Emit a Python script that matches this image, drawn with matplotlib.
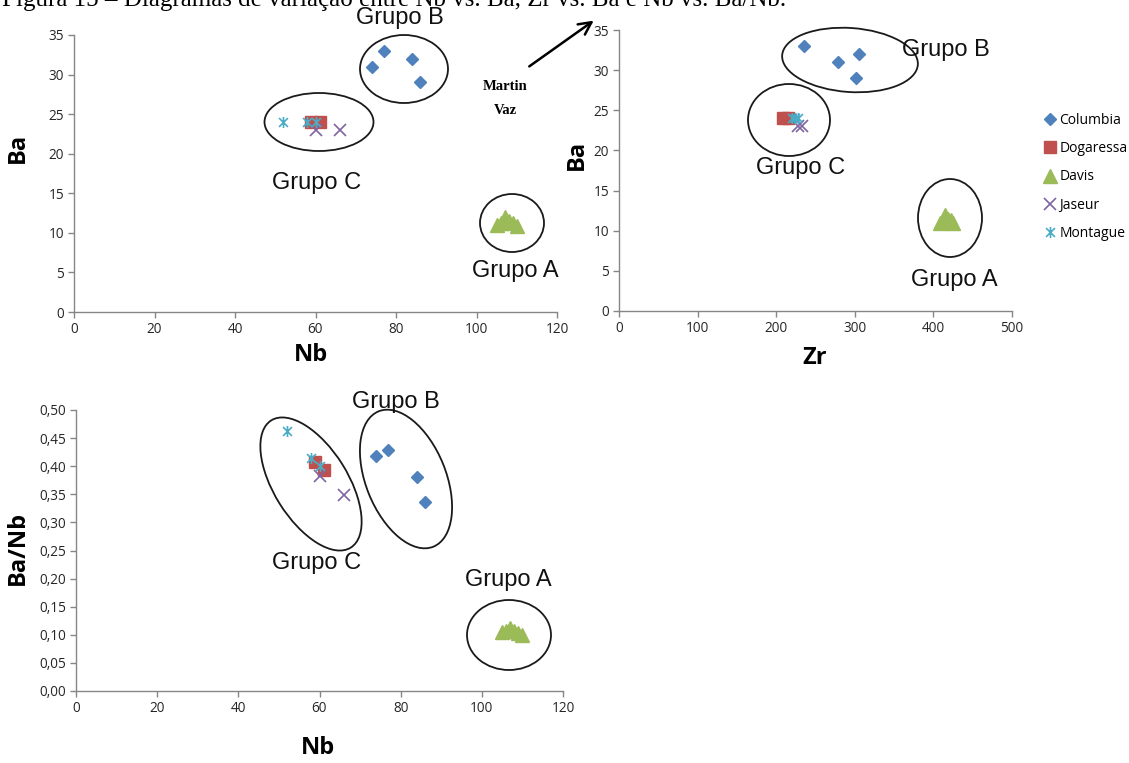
import matplotlib
matplotlib.use('Agg')
import matplotlib.pyplot as plt
from matplotlib.patches import Ellipse, FancyArrowPatch
from matplotlib.transforms import Affine2D
from matplotlib.path import Path
from matplotlib.ticker import FuncFormatter

# ---------------- data ----------------
series = ["Columbia", "Dogaressa", "Davis", "Jaseur", "Montague"]

columbia_nb = [77, 74, 84, 86]
columbia_zr = [235, 278, 305, 301]
columbia_ba = [33, 31, 32, 29]
columbia_banb = [0.429, 0.419, 0.381, 0.337]

dogaressa_nb = [59, 61]
dogaressa_zr = [209, 215]
dogaressa_ba = [24, 24]
dogaressa_banb = [0.407, 0.393]

davis_nb = [105, 106, 107, 108, 109, 110]
davis_zr = [408, 412, 415, 418, 422, 425]
davis_ba = [11.0, 11.3, 12.0, 11.5, 11.3, 10.9]
davis_banb = [0.105, 0.107, 0.112, 0.106, 0.104, 0.099]

jaseur_nb = [60, 66]
jaseur_zr = [228, 233]
jaseur_ba = [23, 23]
jaseur_banb = [0.383, 0.348]

montague_nb = [52, 58, 60]
montague_zr = [220, 224, 228]
montague_ba = [24, 24, 24]
montague_banb = [0.462, 0.414, 0.400]

nb_ticks = [0, 20, 40, 60, 80, 100, 120]
zr_ticks = [0, 100, 200, 300, 400, 500]
ba_ticks = [0, 5, 10, 15, 20, 25, 30, 35]
banb_ticks = [0.00, 0.05, 0.10, 0.15, 0.20, 0.25, 0.30, 0.35, 0.40, 0.45, 0.50]

title_text = "Figura 15 – Diagramas de variação entre Nb vs. Ba, Zr vs. Ba e Nb vs. Ba/Nb."

# ---------------- figure ----------------
W, H = 1129, 763
fig = plt.figure(figsize=(W / 100, H / 100), dpi=100)
fig.patch.set_facecolor('white')
px = Affine2D().scale(1, -1).translate(0, H)  # image pixel coords -> display

star = Path([(-1, -1), (1, 1), (-1, 1), (1, -1), (0, -1.25), (0, 1.25)],
            [Path.MOVETO, Path.LINETO] * 3)

mstyle = {
    "Columbia": dict(marker='D', ms=6.5, mec="#4F81BD", mfc="#4F81BD"),
    "Dogaressa": dict(marker='s', ms=8, mec="#C0504D", mfc="#C0504D"),
    "Davis": dict(marker='^', ms=9.5, mec="#9BBB59", mfc="#9BBB59"),
    "Jaseur": dict(marker='x', ms=8, mew=1.2, mec="#8064A2"),
    "Montague": dict(marker=star, ms=8, mew=1.2, mec="#4BACC6", mfc='none'),
}

tick_font = 'Open Sans'
label_font = 'Open Sans'
AX_COL = '#868686'


def style(ax, xt, yt, fmt=None):
    for s in ['top', 'right']:
        ax.spines[s].set_visible(False)
    for s in ['left', 'bottom']:
        ax.spines[s].set_color(AX_COL)
        ax.spines[s].set_linewidth(1.0)
    ax.set_xticks(xt)
    ax.set_yticks(yt)
    ax.set_xlim(xt[0], xt[-1])
    ax.set_ylim(yt[0], yt[-1])
    if fmt:
        ax.yaxis.set_major_formatter(FuncFormatter(fmt))
    ax.tick_params(direction='out', length=4, width=1, color=AX_COL,
                   labelsize=9.8, labelcolor='#262626', pad=3)
    for lab in ax.get_xticklabels() + ax.get_yticklabels():
        lab.set_family(tick_font)
    ax.set_facecolor('none')


def draw(ax, xs, ys):
    handles = []
    for name, x, y in zip(series, xs, ys):
        h, = ax.plot(x, y, linestyle='none', label=name, clip_on=False, **mstyle[name])
        handles.append(h)
    return handles


ax1 = fig.add_axes([74 / W, 1 - 312 / H, 483 / W, 277 / H])
handles = draw(ax1, [columbia_nb, dogaressa_nb, davis_nb, jaseur_nb, montague_nb],
               [columbia_ba, dogaressa_ba, davis_ba, jaseur_ba, montague_ba])
style(ax1, nb_ticks, ba_ticks)

ax2 = fig.add_axes([619 / W, 1 - 311 / H, 393 / W, 281 / H])
draw(ax2, [columbia_zr, dogaressa_zr, davis_zr, jaseur_zr, montague_zr],
     [columbia_ba, dogaressa_ba, davis_ba, jaseur_ba, montague_ba])
style(ax2, zr_ticks, ba_ticks)

ax3 = fig.add_axes([76 / W, 1 - 691 / H, 487 / W, 281 / H])
draw(ax3, [columbia_nb, dogaressa_nb, davis_nb, jaseur_nb, montague_nb],
     [columbia_banb, dogaressa_banb, davis_banb, jaseur_banb, montague_banb])
style(ax3, nb_ticks, banb_ticks, fmt=lambda v, p: f"{v:.2f}".replace('.', ','))

# ---------------- annotations (ellipses, group labels) ----------------
ellipses = [
    ((404, 69), 88, 68, 0),
    ((319, 122), 109, 58, 0),
    ((512, 223), 64, 58, 0),
    ((850, 60), 136, 64, 4),
    ((789, 120), 82, 72, 0),
    ((950, 218), 64, 78, 0),
    ((311, 484), 150, 74, 58),
    ((406, 479), 146, 80, 68),
    ((509, 635), 84, 70, 0),
]
for c, w, h, a in ellipses:
    e = Ellipse(c, w, h, angle=a, fill=False, edgecolor='#1a1a1a', lw=1.3, transform=px)
    fig.add_artist(e)

group_labels = [
    ("Grupo B", 400, 18), ("Grupo C", 317, 183), ("Grupo A", 515, 271),
    ("Grupo B", 946, 50), ("Grupo C", 801, 168), ("Grupo A", 954, 280),
    ("Grupo B", 396, 402), ("Grupo C", 317, 563), ("Grupo A", 508, 580),
]
for t, x, y in group_labels:
    fig.text(x, y, t, transform=px, ha='center', va='center',
             family='Liberation Sans', fontsize=17, color='#111111')

# axis labels
lab_kw = dict(transform=px, ha='center', va='center', family=label_font,
              fontweight='bold', fontsize=17)
fig.text(18, 148, "Ba", rotation=90, **lab_kw)
fig.text(311, 355, "Nb", **lab_kw)
fig.text(577, 155, "Ba", rotation=90, **lab_kw)
fig.text(815, 358, "Zr", **lab_kw)
fig.text(18, 548, "Ba/Nb", rotation=90, **lab_kw)
fig.text(318, 748, "Nb", **lab_kw)

# Martin Vaz arrow
fig.text(505, 87, "Martin", transform=px, ha='center', va='center',
         family='Liberation Serif', fontweight='bold', fontsize=10.5)
fig.text(505, 110, "Vaz", transform=px, ha='center', va='center',
         family='Liberation Serif', fontweight='bold', fontsize=10.5)
fig.add_artist(FancyArrowPatch((527, 68), (596, 19), transform=px,
                               arrowstyle='->,head_length=9,head_width=4.5',
                               mutation_scale=1, lw=1.8, color='black'))

# cut-off caption at the top
fig.text(2, 6, title_text, transform=px, ha='left', va='baseline',
         family='Liberation Serif', fontsize=18, color='black')

# legend
fig.legend(handles=handles, labels=series, loc='upper left',
           bbox_to_anchor=(1040 / W, 1 - 113 / H), frameon=False,
           prop={'family': tick_font, 'size': 10}, handletextpad=0.0,
           handlelength=1.4, labelspacing=0.95, borderaxespad=0, borderpad=0)

fig.savefig('out.png', dpi=100)
